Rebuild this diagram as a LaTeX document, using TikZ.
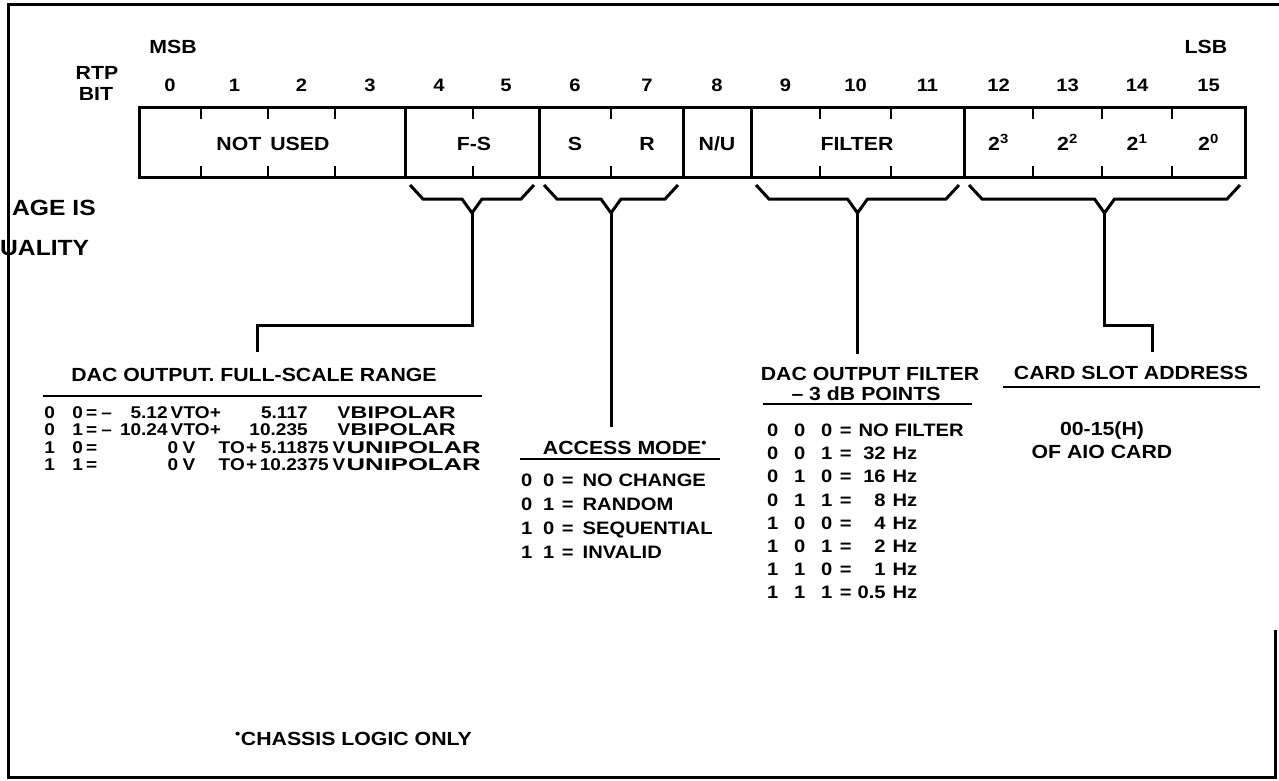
\documentclass[tikz,border=0pt]{standalone}
\usepackage{fontspec}
\usepackage{graphicx}
\setmainfont{Liberation Sans}[FakeStretch=1.12]
\newcommand\colL[2]{\makebox[0pt][l]{\hspace*{#1pt}#2}}
\newcommand\colR[2]{\makebox[0pt][l]{\hspace*{#1pt}\makebox[0pt][r]{#2}}}
\newcommand\colC[2]{\makebox[0pt][l]{\hspace*{#1pt}\makebox[0pt][c]{#2}}}
\newcommand\wide[2]{\resizebox{#1pt}{\height}{#2}}
\tikzset{
  hd/.style={inner sep=0pt, anchor=base, font=\fontsize{19}{22}\selectfont\bfseries},
  dg/.style={inner sep=0pt, anchor=base, font=\fontsize{18}{22}\selectfont\bfseries},
  tb/.style={inner sep=0pt, anchor=base west, font=\fontsize{18}{22}\selectfont\bfseries},
  tbs/.style={inner sep=0pt, anchor=base west, font=\fontsize{17}{20}\selectfont\bfseries},
  stamp/.style={inner sep=0pt, anchor=base west, font=\fontsize{22}{24}\selectfont\bfseries},
  heavy/.style={line width=3pt, line join=miter},
  uline/.style={line width=2pt},
  tick/.style={line width=2.5pt},
}
\begin{document}
\begin{tikzpicture}[x=1pt,y=-1pt]
\useasboundingbox (0,0) rectangle (1279,781);
% frame
\draw[heavy] (1275,630) -- (1275,777) -- (8,777) -- (8,5) -- (1279,5);
% scan stamp remnants
\node[stamp] (stampa) at (12,215) {AGE IS};
\node[stamp] (stampb) at (0,255) {UALITY};
% headers
\node[hd] (msb) at (173,54) {MSB};
\node[hd] (lsb) at (1206,54) {LSB};
\node[hd] (rtp) at (97,80) {RTP};
\node[hd] (bit) at (96,101) {BIT};
\foreach \i/\x in {0/170,1/234.5,2/301.5,3/370,4/439,5/506,6/575,7/647,8/717,9/785.5,10/855.5,11/927.5,12/998.5,13/1067.5,14/1137,15/1208.5}
  \node[dg] (d\i) at (\x,92) {\i};
% register box
\draw[heavy] (139,108) rectangle (1245,177);
\foreach \x in {405,539,683,751,964}
  \draw[heavy] (\x,108) -- (\x,177);
\foreach \x in {201,268,335,473,611,820,891,1033,1102,1172}{
  \draw[tick] (\x,108) -- (\x,119);
  \draw[tick] (\x,166) -- (\x,177);
}
\node[hd] (notused) at (273,150) {NOT\hspace{9pt}USED};
\node[hd] (fs) at (474,150) {F-S};
\node[hd] (s) at (575,150) {S};
\node[hd] (r) at (647,150) {R};
\node[hd] (nu) at (717,150) {N/U};
\node[hd] (filter) at (857,150) {FILTER};
\node[hd] (p3) at (998.5,150) {2\textsuperscript{3}};
\node[hd] (p2) at (1067.5,150) {2\textsuperscript{2}};
\node[hd] (p1) at (1137,150) {2\textsuperscript{1}};
\node[hd] (p0) at (1208.5,150) {2\textsuperscript{0}};
% braces
\foreach \a/\b/\n in {405/539/fs,539/683/am,751/964/fl,964/1245/ca}{
  \pgfmathsetmacro\m{(\a+\b)/2}
  \draw[heavy] (\a+5,185) -- (\a+18,199) -- (\m-10,199) -- (\m,213) coordinate (apx\n)
     -- (\m+10,199) -- (\b-18,199) -- (\b-5,185);
}
% stems
\coordinate (fsEnd) at (257,352);
\coordinate (amEnd) at (611,427);
\coordinate (flEnd) at (857.5,354);
\coordinate (caEnd) at (1152,352);
\draw[heavy] (apxfs) -- (472,325) -| (fsEnd);
\draw[heavy] (apxam) -- (amEnd);
\draw[heavy] (apxfl) -- (flEnd);
\draw[heavy] (apxca) -- (1104.5,325) -| (caEnd);
% DAC output full-scale range
\node[hd] (fsrtitle) at (254,381) {DAC OUTPUT. FULL-SCALE RANGE};
\draw[uline] (43,396) -- (482,396);
\node[tbs] (fsr1) at (43,418) {\colC{6}{0}\colC{34}{0}\colC{48}{=}\colC{63}{\textendash}\colR{124}{5.12}\colL{127}{V}\colL{140}{TO+}\colR{264}{5.117}\colL{294}{V}\colL{307}{\wide{105}{BIPOLAR}}};
\node[tbs] (fsr2) at (43,435.5) {\colC{6}{0}\colC{34}{1}\colC{48}{=}\colC{63}{\textendash}\colR{124}{10.24}\colL{127}{V}\colL{140}{TO+}\colR{264}{10.235}\colL{294}{V}\colL{307}{\wide{105}{BIPOLAR}}};
\node[tbs] (fsr3) at (43,453) {\colC{6}{1}\colC{34}{0}\colC{48}{=}\colL{124}{0}\colL{139}{V}\colL{175}{TO}\colC{208}{+}\colR{285}{5.11875}\colL{289}{V}\colL{303}{\wide{134}{UNIPOLAR}}};
\node[tbs] (fsr4) at (43,470.5) {\colC{6}{1}\colC{34}{1}\colC{48}{=}\colL{124}{0}\colL{139}{V}\colL{175}{TO}\colC{208}{+}\colR{285}{10.2375}\colL{289}{V}\colL{303}{\wide{134}{UNIPOLAR}}};
% access mode
\node[hd] (amtitle) at (625,454) {ACCESS MODE\textsuperscript{•}};
\draw[uline] (520,459) -- (720,459);
\node[tb] (am1) at (520,486) {\colC{6}{0}\colC{28}{0}\colC{47}{=}\colL{62}{NO CHANGE}};
\node[tb] (am2) at (520,510) {\colC{6}{0}\colC{28}{1}\colC{47}{=}\colL{62}{RANDOM}};
\node[tb] (am3) at (520,534) {\colC{6}{1}\colC{28}{0}\colC{47}{=}\colL{62}{SEQUENTIAL}};
\node[tb] (am4) at (520,558) {\colC{6}{1}\colC{28}{1}\colC{47}{=}\colL{62}{INVALID}};
% filter
\node[hd] (fltitle) at (870,380) {DAC OUTPUT FILTER};
\node[hd] (flsub) at (866,400) {\textendash\ 3 dB POINTS};
\draw[uline] (763,404) -- (972,404);
\node[tb] (fl1) at (767,436.5) {\colC{5}{0}\colC{32}{0}\colC{59}{0}\colC{78}{=}\colL{91}{NO FILTER}};
\node[tb] (fl2) at (767,459.7) {\colC{5}{0}\colC{32}{0}\colC{59}{1}\colC{78}{=}\colR{118}{32}\colL{125}{Hz}};
\node[tb] (fl3) at (767,482.9) {\colC{5}{0}\colC{32}{1}\colC{59}{0}\colC{78}{=}\colR{118}{16}\colL{125}{Hz}};
\node[tb] (fl4) at (767,506.1) {\colC{5}{0}\colC{32}{1}\colC{59}{1}\colC{78}{=}\colR{118}{8}\colL{125}{Hz}};
\node[tb] (fl5) at (767,529.3) {\colC{5}{1}\colC{32}{0}\colC{59}{0}\colC{78}{=}\colR{118}{4}\colL{125}{Hz}};
\node[tb] (fl6) at (767,552.5) {\colC{5}{1}\colC{32}{0}\colC{59}{1}\colC{78}{=}\colR{118}{2}\colL{125}{Hz}};
\node[tb] (fl7) at (767,575.7) {\colC{5}{1}\colC{32}{1}\colC{59}{0}\colC{78}{=}\colR{118}{1}\colL{125}{Hz}};
\node[tb] (fl8) at (767,598.9) {\colC{5}{1}\colC{32}{1}\colC{59}{1}\colC{78}{=}\colR{118}{0.5}\colL{125}{Hz}};
% card slot address
\node[hd] (catitle) at (1131,379) {CARD SLOT ADDRESS};
\draw[uline] (1003,387) -- (1260,387);
\node[hd] (ca1) at (1102,435) {00-15(H)};
\node[hd] (ca2) at (1102,458) {OF AIO CARD};
% footnote
\node[hd, anchor=base west] (foot) at (235,745) {\textsuperscript{•}CHASSIS LOGIC ONLY};
\end{tikzpicture}
\end{document}
